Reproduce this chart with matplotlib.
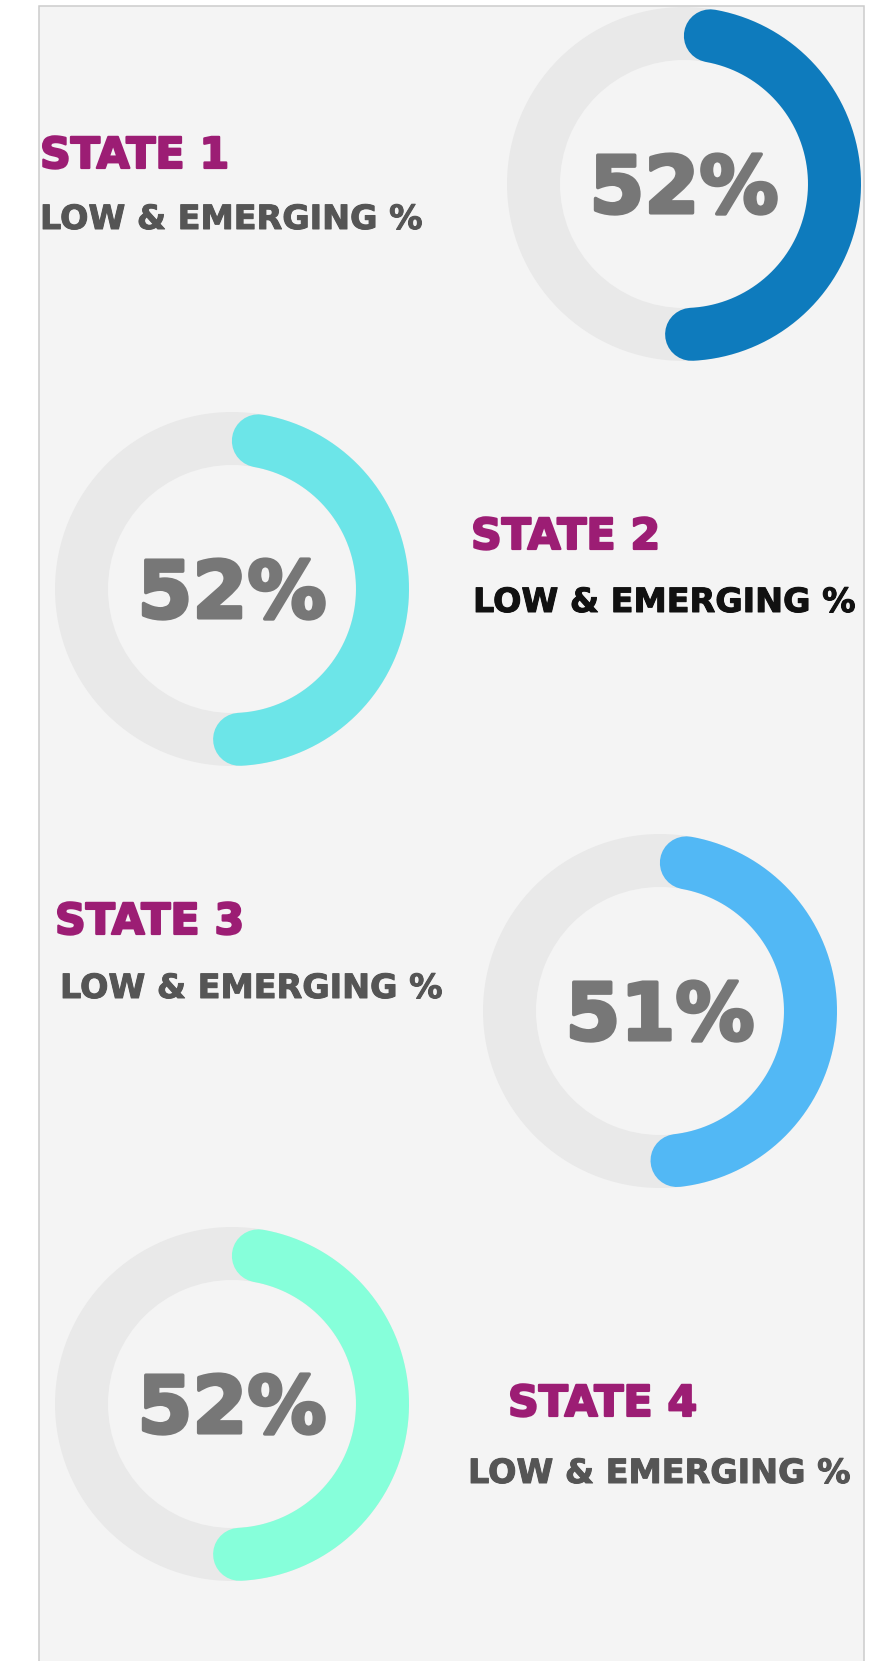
import numpy as np
import matplotlib
matplotlib.use("Agg")
import matplotlib.pyplot as plt
from matplotlib.patches import Wedge, Rectangle
import matplotlib.patheffects as pe

# ---- data ----
states = ["STATE 1", "STATE 2", "STATE 3", "STATE 4"]
subtitles = ["LOW & EMERGING %"] * 4
values = [52, 52, 51, 52]
arc_colors = ["#0e7bbd", "#6ce5e8", "#52b8f5", "#86ffda"]
subtitle_colors = ["#555555", "#111111", "#555555", "#555555"]

# ---- layout (pixels) ----
W, H = 872, 1661
centers = [(684, 184), (232, 589), (660, 1011), (232, 1404)]
state_pos = [(40, 168), (471, 549), (55, 934), (508, 1416)]
sub_pos = [(40, 229), (473, 612), (60, 998), (468, 1483)]
R_OUT, RING_W = 177, 53
R_MID = R_OUT - RING_W / 2

fig = plt.figure(figsize=(W / 100, H / 100), dpi=100)
fig.patch.set_facecolor("white")
ax = fig.add_axes([0, 0, 1, 1])
ax.set_xlim(0, W)
ax.set_ylim(H, 0)
ax.axis("off")

px2pt = 72 / 100

# panel
ax.add_patch(Rectangle((39, 6), 825, H + 20, facecolor="#f4f4f4",
                       edgecolor="#cbcbcb", linewidth=1.5 * px2pt, zorder=0))

FONT = "DejaVu Sans"
PCT_EM = 79
cap = 0.729 * PCT_EM


def thick(color, w):
    return [pe.withStroke(linewidth=w * px2pt, foreground=color)]


for i in range(4):
    cx, cy = centers[i]
    # background ring
    ax.add_patch(Wedge((cx, cy), R_OUT, 0, 360, width=RING_W,
                       facecolor="#e9e9e9", edgecolor="none", zorder=1))
    # value arc (round caps included in the span)
    span = values[i] / 100 * 360
    d = np.degrees((RING_W / 2) / R_MID)
    th = np.radians(np.linspace(90 - d, 90 - span + d, 300))
    ax.plot(cx + R_MID * np.cos(th), cy - R_MID * np.sin(th),
            color=arc_colors[i], linewidth=RING_W * px2pt,
            solid_capstyle="round", zorder=2)
    ax.text(cx, cy + cap / 2, f"{values[i]}%", ha="center", va="baseline",
            fontsize=PCT_EM * px2pt, fontweight="bold", family=FONT,
            color="#777777", zorder=3,
            path_effects=thick("#777777", 3.5))
    sx, sy = state_pos[i]
    ax.text(sx, sy, states[i], ha="left", va="baseline",
            fontsize=42.7 * px2pt, fontweight="bold", family=FONT,
            color="#9c1d74", zorder=3,
            path_effects=thick("#9c1d74", 2.2))
    ux, uy = sub_pos[i]
    ax.text(ux, uy, subtitles[i], ha="left", va="baseline",
            fontsize=33.4 * px2pt, fontweight="bold", family=FONT,
            color=subtitle_colors[i], zorder=3,
            path_effects=thick(subtitle_colors[i], 1.0))

fig.savefig("out.png", dpi=100, facecolor="white")
